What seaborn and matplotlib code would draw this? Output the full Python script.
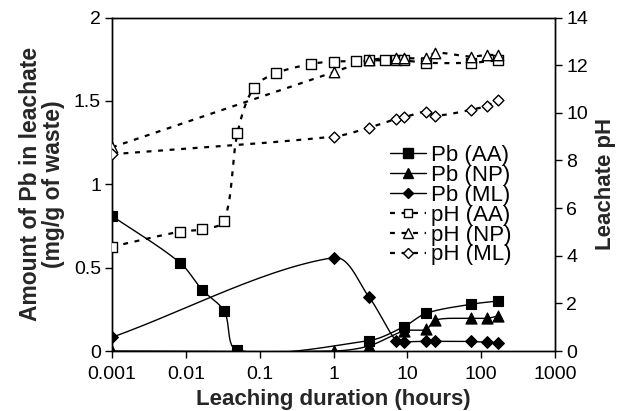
import numpy as np
import pandas as pd
import matplotlib
matplotlib.use("Agg")
import matplotlib.pyplot as plt
import seaborn as sns
from matplotlib.lines import Line2D

sns.set_theme(style="white")
plt.rcParams['font.family'] = ['Liberation Sans', 'DejaVu Sans']

# ---------------- data ----------------
pb_aa_t = [0.001, 0.0083, 0.0167, 0.033, 0.05, 3, 9, 18, 72, 168]
pb_aa = [0.81, 0.53, 0.366, 0.24, 0.005, 0.062, 0.146, 0.226, 0.28, 0.30]

pb_np_t = [0.001, 1, 3, 9, 18, 24, 72, 120, 168]
pb_np = [0.0, 0.0, 0.03, 0.12, 0.13, 0.186, 0.196, 0.196, 0.21]

pb_ml_t = [0.001, 1, 3, 7, 9, 18, 24, 72, 120, 168]
pb_ml = [0.082, 0.56, 0.326, 0.062, 0.056, 0.058, 0.058, 0.057, 0.052, 0.05]

ph_aa_t = [0.001, 0.0083, 0.0167, 0.033, 0.05, 0.083, 0.167, 0.5, 1, 2, 3, 5, 7, 9, 18, 72, 168]
ph_aa = [4.38, 5.01, 5.11, 5.47, 9.14, 11.05, 11.66, 12.05, 12.15, 12.17, 12.2, 12.2, 12.2, 12.2, 12.1, 12.1, 12.2]

ph_np_t = [0.001, 1, 3, 7, 9, 18, 24, 72, 120, 168]
ph_np = [8.55, 11.7, 12.2, 12.3, 12.3, 12.3, 12.52, 12.36, 12.43, 12.42]

ph_ml_t = [0.001, 1, 3, 7, 9, 18, 24, 72, 120, 168]
ph_ml = [8.26, 9.0, 9.37, 9.74, 9.81, 10.05, 9.88, 10.12, 10.3, 10.54]

x_ticks = [0.001, 0.01, 0.1, 1, 10, 100, 1000]
x_tick_labels = ["0.001", "0.01", "0.1", "1", "10", "100", "1000"]
left_ticks = [0, 0.5, 1, 1.5, 2]
left_tick_labels = ["0", "0.5", "1", "1.5", "2"]
right_ticks = [0, 2, 4, 6, 8, 10, 12, 14]

# ---------------- figure ----------------
W, H = 619, 411
fig = plt.figure(figsize=(W / 100, H / 100), dpi=100)
L, R, B, T = 112, 555, 351, 17.5
ax = fig.add_axes([L / W, (H - B) / H, (R - L) / W, (B - T) / H])
ax2 = ax.twinx()


def smooth(ax_, t, y, n=30):
    """Excel-like smoothed line (chord-weighted cubic Bezier in display space)."""
    pts = ax_.transData.transform(np.column_stack([t, y]))
    out = [pts[0]]
    npts = len(pts)
    for i in range(npts - 1):
        p0 = pts[i - 1] if i > 0 else pts[i]
        p1 = pts[i]
        p2 = pts[i + 1]
        p3 = pts[i + 2] if i + 2 < npts else pts[i + 1]
        d01 = np.hypot(*(p1 - p0))
        d12 = np.hypot(*(p2 - p1))
        d23 = np.hypot(*(p3 - p2))
        c1 = p1 + (p2 - p0) * d12 / max(d01 + d12, 1e-9) / 3
        c2 = p2 - (p3 - p1) * d12 / max(d12 + d23, 1e-9) / 3
        s = np.linspace(0, 1, n)[1:, None]
        seg = ((1 - s) ** 3) * p1 + 3 * ((1 - s) ** 2) * s * c1 + 3 * (1 - s) * s ** 2 * c2 + s ** 3 * p2
        out.extend(seg)
    out = np.array(out)
    return ax_.transData.inverted().transform(out)


for a in (ax, ax2):
    a.set_xscale("log")
    a.set_xlim(0.001, 1000)
ax.set_ylim(0, 2)
ax2.set_ylim(0, 14)
fig.canvas.draw()

solid_kw = dict(color="black", lw=1.0, zorder=2)
dot_kw = dict(color="black", lw=1.6, dashes=(2.2, 3.0), zorder=2)

series_left = [
    (pb_aa_t, pb_aa, "s", 7.5, "black", "Pb (AA)"),
    (pb_np_t, pb_np, "^", 8, "black", "Pb (NP)"),
    (pb_ml_t, pb_ml, "D", 6, "black", "Pb (ML)"),
]
series_right = [
    (ph_aa_t, ph_aa, "s", 7, "white", "pH (AA)"),
    (ph_np_t, ph_np, "^", 7.5, "white", "pH (NP)"),
    (ph_ml_t, ph_ml, "D", 5.5, "white", "pH (ML)"),
]

handles = []
for t, y, m, ms, fc, lab in series_left:
    xy = smooth(ax, t, y)
    curve = pd.DataFrame({"t": xy[:, 0], "v": xy[:, 1]})
    sns.lineplot(data=curve, x="t", y="v", ax=ax, sort=False, estimator=None, **solid_kw)
    pts = pd.DataFrame({"t": t, "v": y})
    sns.scatterplot(data=pts, x="t", y="v", ax=ax, marker=m, s=ms ** 2, color=fc,
                    edgecolor="black", linewidth=0.8, zorder=3)
    handles.append(Line2D([], [], color="black", lw=1.0, marker=m, markersize=ms * 0.9,
                          markerfacecolor=fc, markeredgecolor="black", label=lab))

for t, y, m, ms, fc, lab in series_right:
    xy = smooth(ax2, t, y)
    curve = pd.DataFrame({"t": xy[:, 0], "v": xy[:, 1]})
    sns.lineplot(data=curve, x="t", y="v", ax=ax2, sort=False, estimator=None, **dot_kw)
    pts = pd.DataFrame({"t": t, "v": y})
    sns.scatterplot(data=pts, x="t", y="v", ax=ax2, marker=m, s=ms ** 2, color=fc,
                    edgecolor="black", linewidth=1.0, zorder=3)
    handles.append(Line2D([], [], color="black", lw=1.6, dashes=(2.2, 3.0), marker=m,
                          markersize=ms * 0.9, markerfacecolor=fc, markeredgecolor="black",
                          markeredgewidth=1.0, label=lab))

# ---------------- axes styling ----------------
for a in (ax, ax2):
    for sp in a.spines.values():
        sp.set_color("black")
        sp.set_linewidth(1.0)
    a.grid(False)

ax.set_xticks(x_ticks)
ax.set_xticklabels(x_tick_labels)
ax.xaxis.set_minor_locator(matplotlib.ticker.NullLocator())
ax.set_yticks(left_ticks)
ax.set_yticklabels(left_tick_labels)
ax2.set_yticks(right_ticks)
ax2.set_yticklabels([str(v) for v in right_ticks])
ax.tick_params(axis="y", which="major", direction="out", length=5, width=1,
               color="black", labelsize=14, labelcolor="black", pad=3, left=True)
ax.tick_params(axis="x", which="major", direction="out", length=5, width=1,
               color="black", labelsize=14, labelcolor="black", pad=6, bottom=True)
ax2.tick_params(axis="y", which="major", direction="out", length=5, width=1,
                color="black", labelsize=14, labelcolor="black", pad=3, right=True)

ax.set_xlabel("Leaching duration (hours)", fontsize=16, fontweight="bold", labelpad=4)
ax.set_ylabel("Amount of Pb in leachate\n(mg/g of waste)", fontsize=16.5,
              fontweight="bold", labelpad=6, linespacing=1.0)
ax2.set_ylabel("Leachate pH", fontsize=16, fontweight="bold", labelpad=5)
ax2.yaxis.label.set_rotation(90)

leg = ax2.legend(handles=handles, loc="upper left",
                 bbox_to_anchor=((390 - L) / (R - L), (B - 145) / (B - T)),
                 frameon=False, fontsize=16, handlelength=1.6, handletextpad=0.25,
                 labelspacing=-0.05, borderaxespad=0, borderpad=0)
for txt in leg.get_texts():
    txt.set_color("black")

fig.savefig("out.png", dpi=100, facecolor="white")
